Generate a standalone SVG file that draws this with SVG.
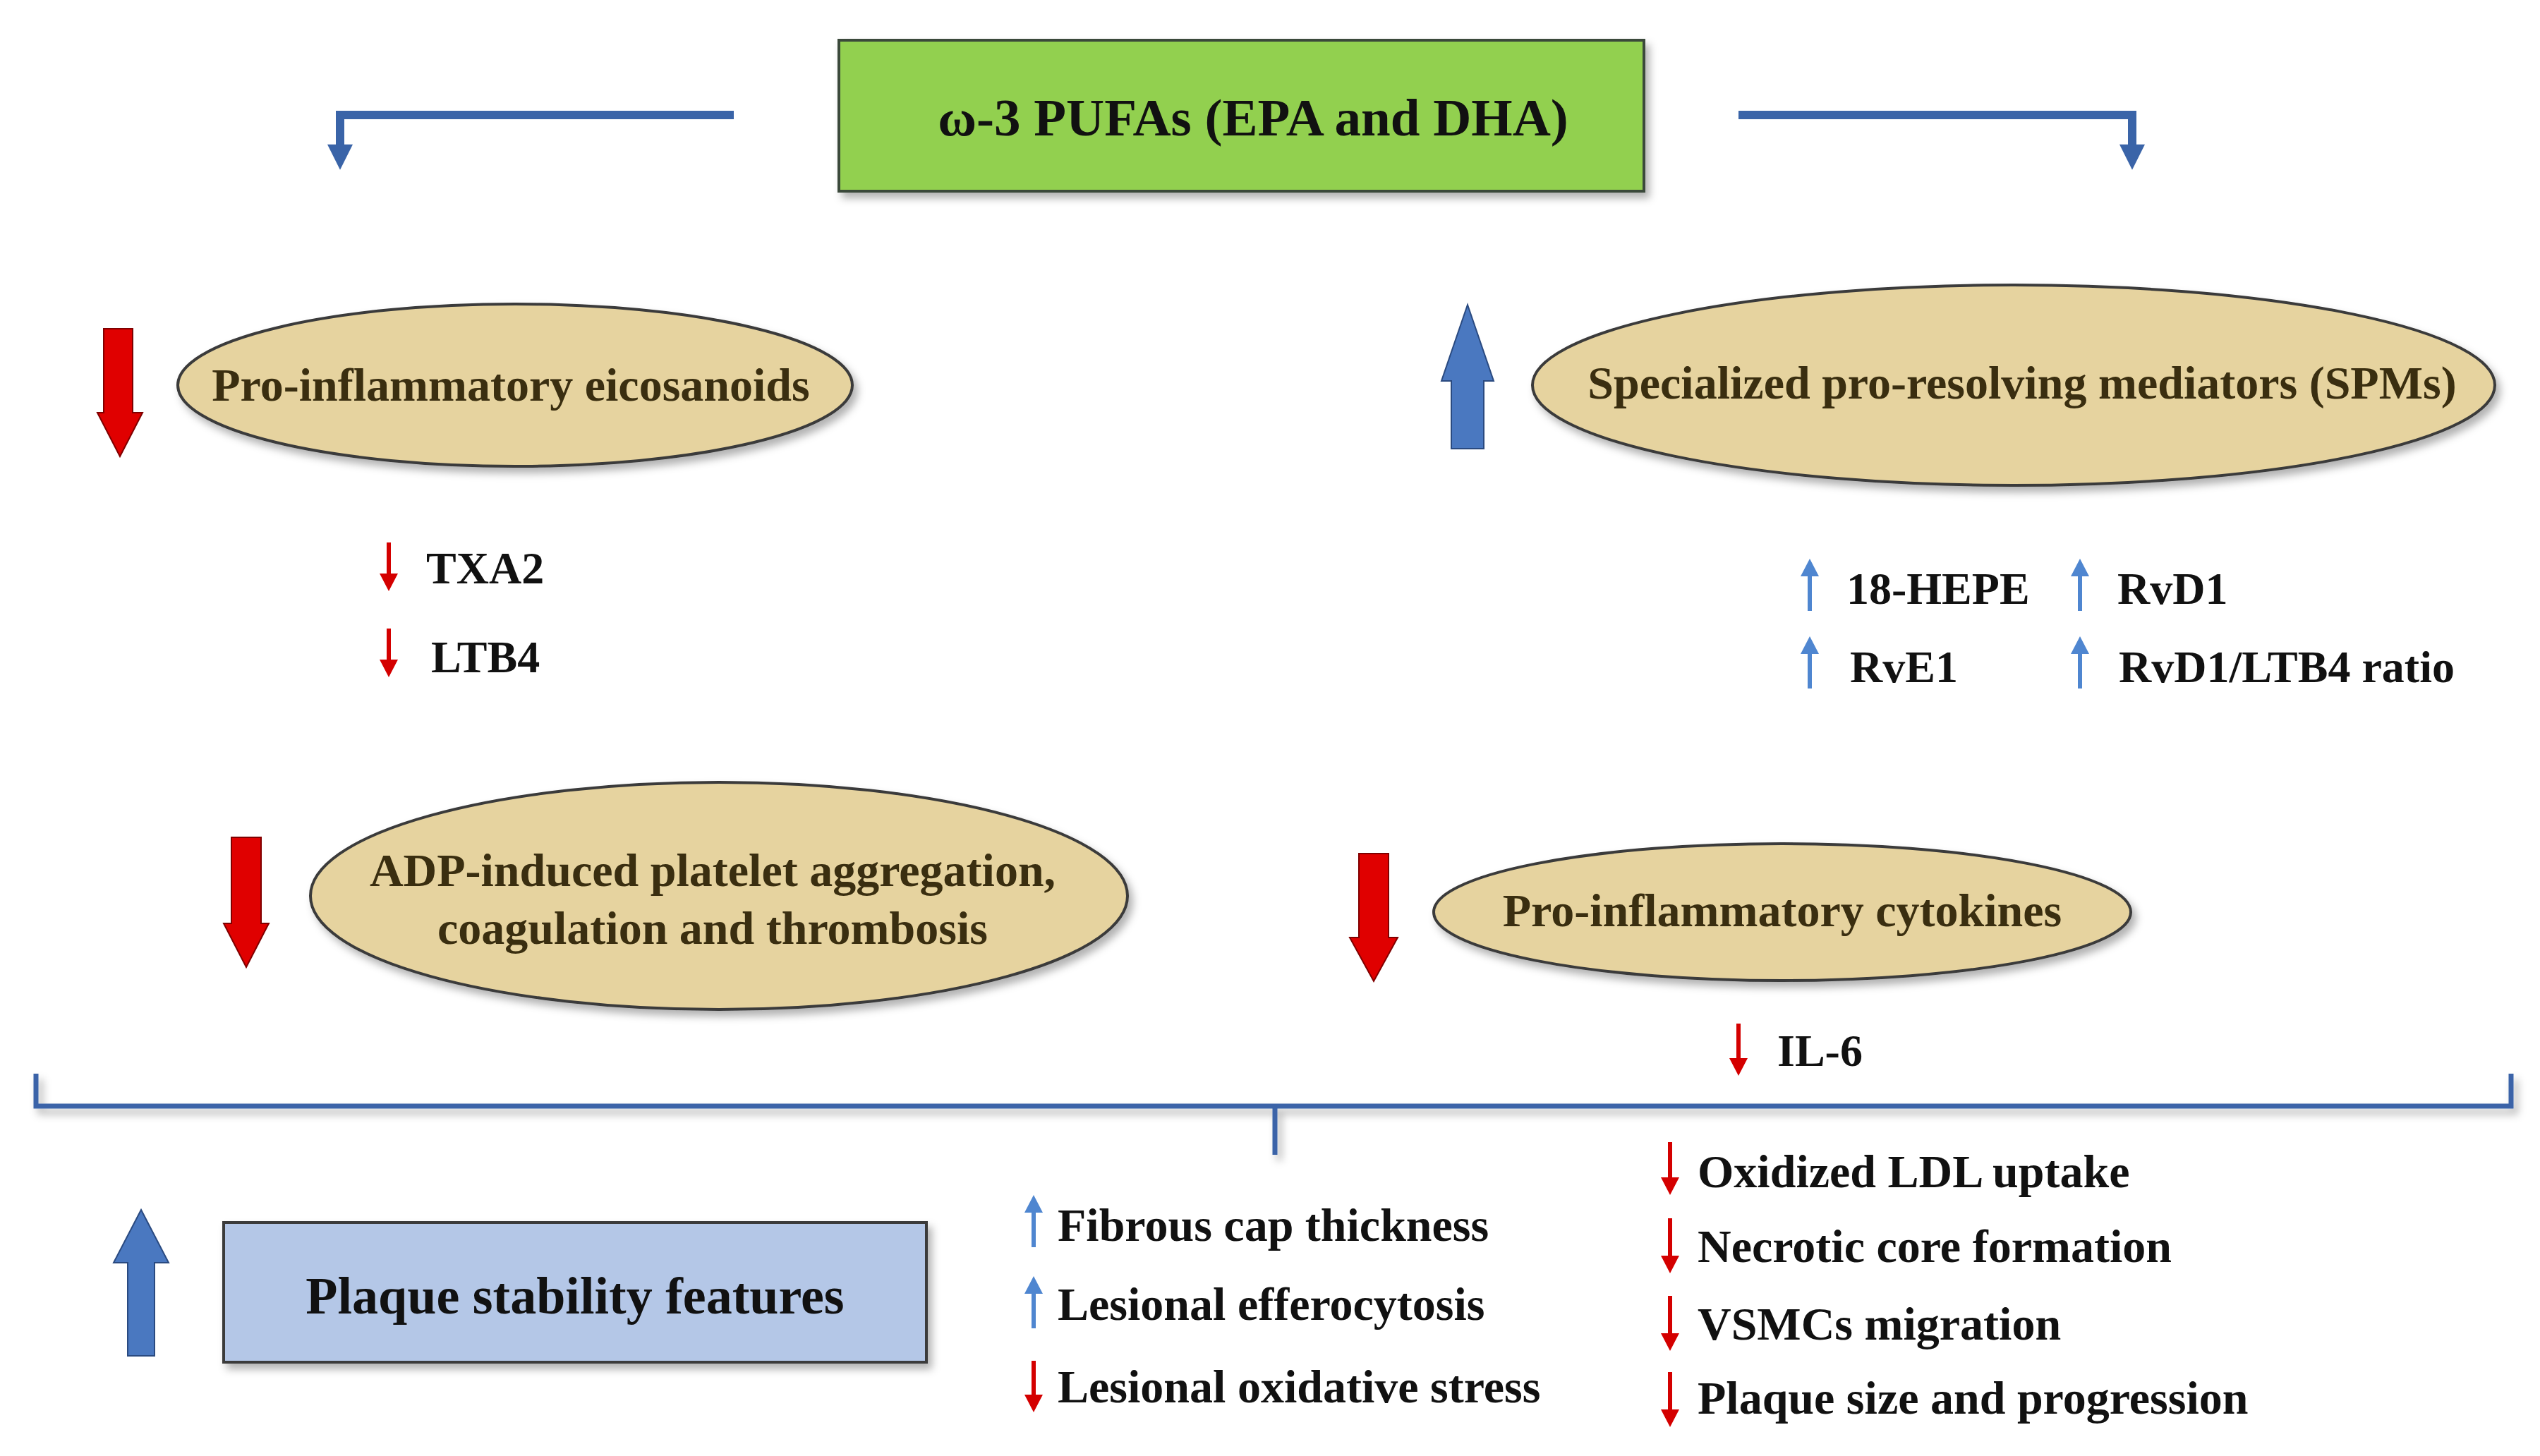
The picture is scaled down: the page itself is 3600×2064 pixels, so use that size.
<svg xmlns="http://www.w3.org/2000/svg" width="3600" height="2064" viewBox="0 0 3600 2064">
<defs>
<filter id="sh" x="-10%" y="-10%" width="130%" height="140%"><feDropShadow dx="6" dy="8" stdDeviation="6" flood-color="#000" flood-opacity="0.3"/></filter>
<marker id="bh" viewBox="0 0 10 10" refX="2" refY="5" markerWidth="3.5" markerHeight="3" orient="auto" markerUnits="strokeWidth"><path d="M0,0 L10,5 L0,10 Z" fill="#3a64a8"/></marker>
</defs>
<style>
.t{font-family:"Liberation Serif","Times New Roman",serif;font-weight:bold;fill:#111}
.e{fill:#e6d39f;stroke:#3a3a3a;stroke-width:4;filter:url(#sh)}
.et{font-family:"Liberation Serif","Times New Roman",serif;font-weight:bold;fill:#3a2e10;font-size:66px;text-anchor:middle}
.red{fill:#e00000;stroke:#800000;stroke-width:2}
.blu{fill:#4a78c0;stroke:#2a4a80;stroke-width:2}
.rs{fill:#d40000}
.bs{fill:#4f86d0}
.conn{fill:none;stroke:#3a64a8;stroke-width:12}
</style>
<rect width="3600" height="2064" fill="#fff"/>
<g id="connectors">
<path class="conn" d="M1040,163 H482 V212" marker-end="url(#bh)"/>
<path class="conn" d="M2464,163 H3022 V212" marker-end="url(#bh)"/>
<path d="M51,1522 V1568 H3559 V1522 M1807,1568 V1637" fill="none" stroke="#3a64a8" stroke-width="7" filter="url(#sh)"/>
</g>
<g id="pufa">
<rect x="1189" y="57" width="1141" height="214" fill="#92d050" stroke="#3a4a3a" stroke-width="4" filter="url(#sh)"/>
<text class="t" x="1776" y="192" font-size="75" text-anchor="middle">ω-3 PUFAs (EPA and DHA)</text>
</g>
<g id="eico">
<path class="red" d="M147,466 H188 V585 H202 L170,647 L138,585 H147 Z"/>
<ellipse class="e" cx="730" cy="546" rx="478" ry="115"/>
<text class="et" x="724" y="568">Pro-inflammatory eicosanoids</text>
<path class="rs" d="M548,769 h6 v44 h10 l-13,25 l-13,-25 h10 Z"/>
<text class="t" x="604" y="827" font-size="64">TXA2</text>
<path class="rs" d="M548,891 h6 v44 h10 l-13,25 l-13,-25 h10 Z"/>
<text class="t" x="611" y="953" font-size="64">LTB4</text>
</g>
<g id="spm">
<path class="blu" d="M2057,636 H2103 V540 H2117 L2080,432 L2043,540 H2057 Z"/>
<ellipse class="e" cx="2854" cy="546" rx="682" ry="142"/>
<text class="et" x="2866" y="565">Specialized pro-resolving mediators (SPMs)</text>
<path class="bs" d="M2562,866 h6 v-49 h10 l-13,-25 l-13,25 h10 Z"/>
<text class="t" x="2617" y="856" font-size="64">18-HEPE</text>
<path class="bs" d="M2945,866 h6 v-49 h10 l-13,-25 l-13,25 h10 Z"/>
<text class="t" x="3001" y="856" font-size="64">RvD1</text>
<path class="bs" d="M2562,976 h6 v-49 h10 l-13,-25 l-13,25 h10 Z"/>
<text class="t" x="2622" y="967" font-size="64">RvE1</text>
<path class="bs" d="M2945,976 h6 v-49 h10 l-13,-25 l-13,25 h10 Z"/>
<text class="t" x="3003" y="967" font-size="64">RvD1/LTB4 ratio</text>
</g>
<g id="adp">
<path class="red" d="M328,1187 H370 V1309 H381 L349,1371 L317,1309 H328 Z"/>
<ellipse class="e" cx="1019" cy="1270" rx="579" ry="161"/>
<text class="et" x="1010" y="1256">ADP-induced platelet aggregation,</text>
<text class="et" x="1010" y="1338">coagulation and thrombosis</text>
</g>
<g id="cyto">
<path class="red" d="M1926,1210 H1968 V1329 H1981 L1947,1391 L1913,1329 H1926 Z"/>
<ellipse class="e" cx="2526" cy="1293" rx="494" ry="97"/>
<text class="et" x="2526" y="1313">Pro-inflammatory cytokines</text>
<path class="rs" d="M2461,1451 h6 v49 h10 l-13,25 l-13,-25 h10 Z"/>
<text class="t" x="2519" y="1511" font-size="64">IL-6</text>
</g>
<g id="plaque">
<path class="blu" d="M181,1922 H219 V1790 H239 L200,1715 L161,1790 H181 Z"/>
<rect x="317" y="1733" width="996" height="198" fill="#b4c7e7" stroke="#3a3a3a" stroke-width="4" filter="url(#sh)"/>
<text class="t" x="815" y="1862" font-size="74" text-anchor="middle">Plaque stability features</text>
<path class="bs" d="M1462,1768 h6 v-49 h10 l-13,-25 l-13,25 h10 Z"/>
<text class="t" x="1499" y="1759" font-size="66">Fibrous cap thickness</text>
<path class="bs" d="M1462,1883 h6 v-49 h10 l-13,-25 l-13,25 h10 Z"/>
<text class="t" x="1499" y="1871" font-size="66">Lesional efferocytosis</text>
<path class="rs" d="M1462,1929 h6 v48 h10 l-13,25 l-13,-25 h10 Z"/>
<text class="t" x="1499" y="1988" font-size="66">Lesional oxidative stress</text>
<path class="rs" d="M2364,1619 h6 v50 h10 l-13,25 l-13,-25 h10 Z"/>
<text class="t" x="2406" y="1683" font-size="66">Oxidized LDL uptake</text>
<path class="rs" d="M2364,1727 h6 v53 h10 l-13,25 l-13,-25 h10 Z"/>
<text class="t" x="2406" y="1789" font-size="66">Necrotic core formation</text>
<path class="rs" d="M2364,1837 h6 v53 h10 l-13,25 l-13,-25 h10 Z"/>
<text class="t" x="2406" y="1899" font-size="66">VSMCs migration</text>
<path class="rs" d="M2364,1945 h6 v53 h10 l-13,25 l-13,-25 h10 Z"/>
<text class="t" x="2406" y="2004" font-size="66">Plaque size and progression</text>
</g>
</svg>
